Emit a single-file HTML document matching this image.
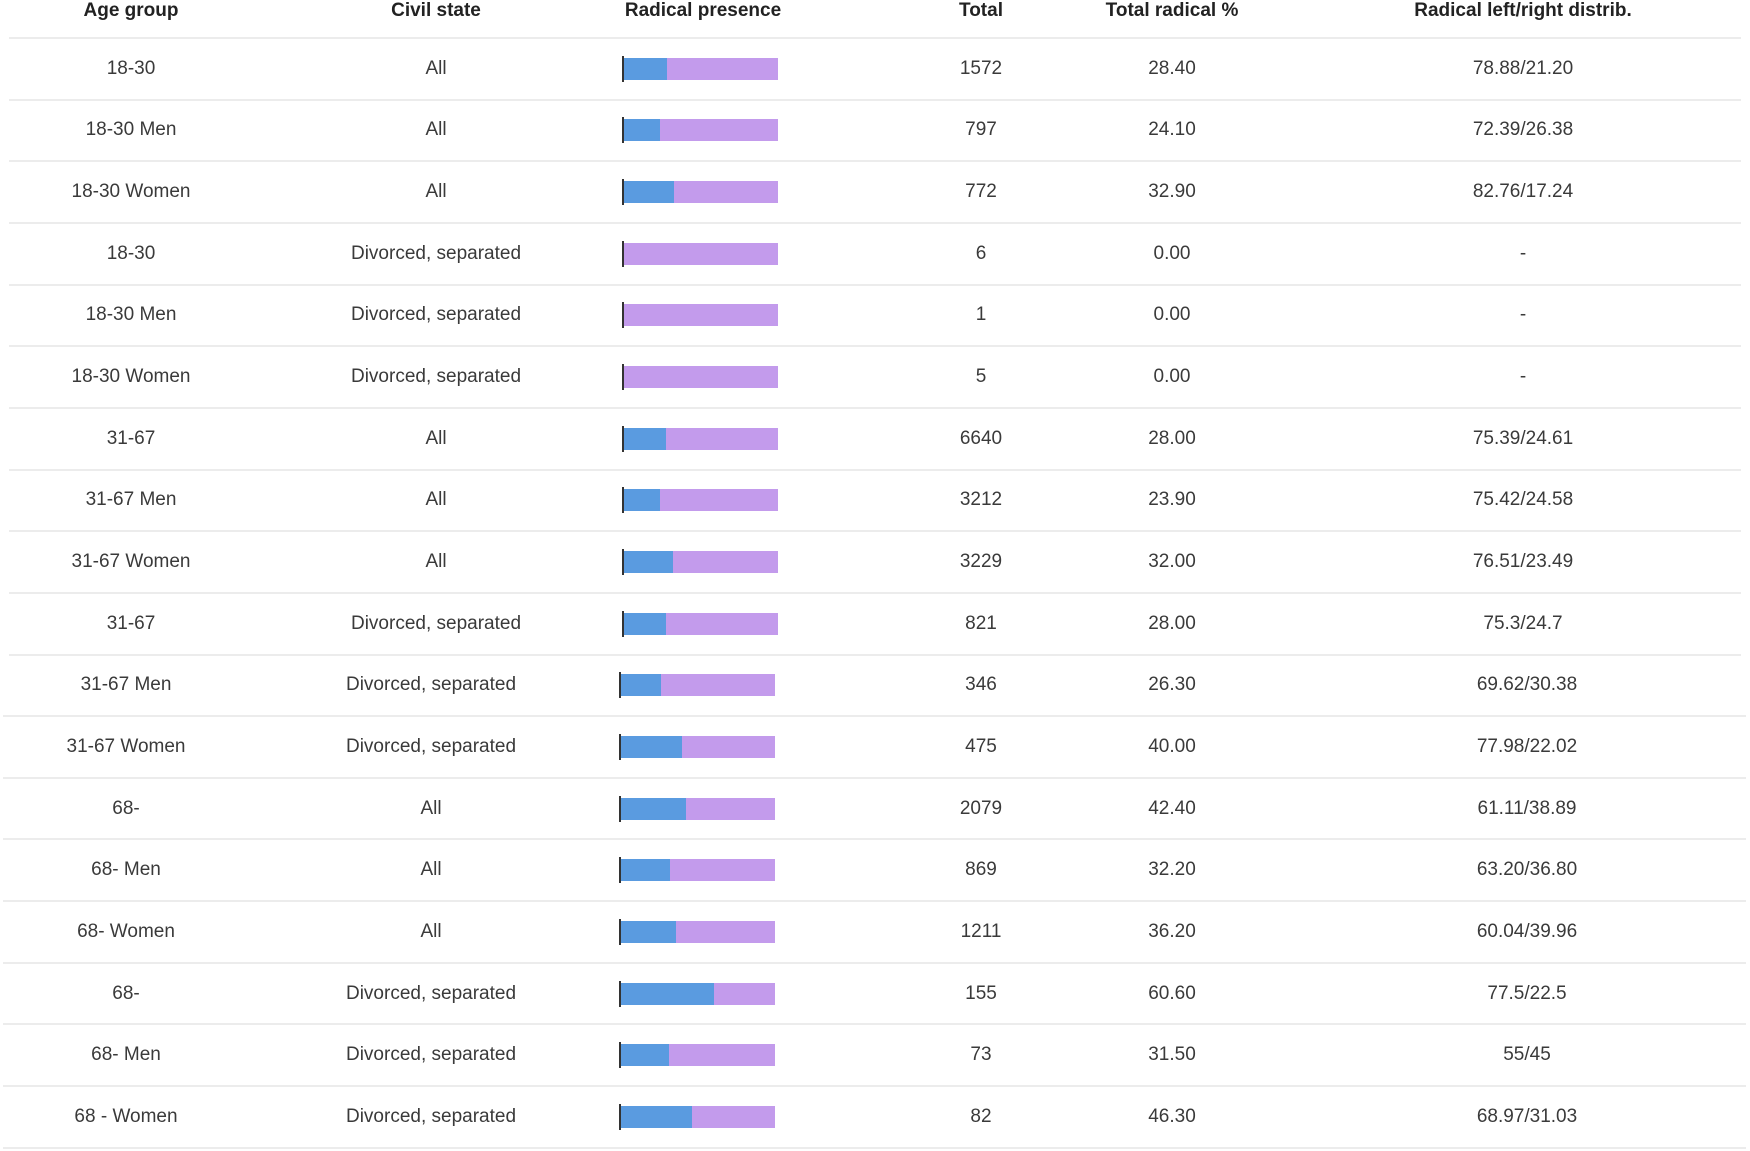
<!DOCTYPE html>
<html><head><meta charset="utf-8"><style>
body{margin:0;background:#fff;width:1750px;height:1151px;overflow:hidden;font-family:"Liberation Sans",sans-serif;}
#t{position:relative;width:1750px;height:1151px;}
.h{position:absolute;top:0;font-weight:bold;font-size:19px;color:#222;transform:translateX(-50%);white-space:nowrap;line-height:22px;}
.c{position:absolute;font-size:19px;color:#3a3a3a;transform:translate(-50%,-50%);white-space:nowrap;}
.ln{position:absolute;height:2px;background:#ececec;}
.bar{position:absolute;height:22px;}
</style></head><body>
<div id="t"></div>
<script>
const ageGroups=["18-30","18-30 Men","18-30 Women","18-30","18-30 Men","18-30 Women","31-67","31-67 Men","31-67 Women","31-67","31-67 Men","31-67 Women","68-","68- Men","68- Women","68-","68- Men","68 - Women"];
const civilStates=["All","All","All","Divorced, separated","Divorced, separated","Divorced, separated","All","All","All","Divorced, separated","Divorced, separated","Divorced, separated","All","All","All","Divorced, separated","Divorced, separated","Divorced, separated"];
const totals=[1572,797,772,6,1,5,6640,3212,3229,821,346,475,2079,869,1211,155,73,82];
const radicalPct=["28.40","24.10","32.90","0.00","0.00","0.00","28.00","23.90","32.00","28.00","26.30","40.00","42.40","32.20","36.20","60.60","31.50","46.30"];
const distrib=["78.88/21.20","72.39/26.38","82.76/17.24","-","-","-","75.39/24.61","75.42/24.58","76.51/23.49","75.3/24.7","69.62/30.38","77.98/22.02","61.11/38.89","63.20/36.80","60.04/39.96","77.5/22.5","55/45","68.97/31.03"];
const headers=["Age group","Civil state","Radical presence","Total","Total radical %","Radical left/right distrib."];
const t=document.getElementById('t');
const hx=[131,436,703,981,1172,1523];
const hnames=['age-group-header','civil-state-header','radical-presence-header','total-header','total-radical-pct-header','distrib-header'];
headers.forEach((h,i)=>{const d=document.createElement('div');d.className='h';d.style.left=hx[i]+'px';d.textContent=h;


t.appendChild(d);});
const top0=38,rh=61.65,barW=155;
function addLine(y,x0,x1){const l=document.createElement('div');l.className='ln';l.style.top=y+'px';l.style.left=x0+'px';l.style.width=(x1-x0)+'px';


t.appendChild(l);}
addLine(top0-1,9,1741);
ageGroups.forEach((a,i)=>{
 const late=i>=10;const dx=late?-5:0;
 const cy=top0+rh*i+rh/2;
 const cols=[[131+dx,a,'age-group-cell'],[436+dx,civilStates[i],'civil-state-cell'],[981,String(totals[i]),'total-cell'],[1172,radicalPct[i],'total-radical-pct-cell'],[1523+(late?4:0),distrib[i],'distrib-cell']];
 cols.forEach(c=>{const d=document.createElement('div');d.className='c';d.style.left=c[0]+'px';d.style.top=cy+'px';d.textContent=c[1];
 
 
 t.appendChild(d);});
 const bx=623+(late?-3:0);const p=parseFloat(radicalPct[i])/100;
 const b=document.createElement('div');b.className='bar';b.style.left=bx+'px';b.style.top=(cy-11)+'px';b.style.width=barW+'px';b.style.background='#c39bec';
 
 
 t.appendChild(b);
 const f=document.createElement('div');f.className='bar';f.style.left=bx+'px';f.style.top=(cy-11)+'px';f.style.width=(barW*p)+'px';f.style.background='#5a9be0';
 
 
 t.appendChild(f);
 const k=document.createElement('div');k.style.cssText='position:absolute;width:2px;background:#333;height:26px;left:'+(bx-1)+'px;top:'+(cy-13)+'px';
 
 
 t.appendChild(k);
 addLine(top0+rh*(i+1)-1,late?3:9,late?1746:1741);
});
</script>
</body></html>
